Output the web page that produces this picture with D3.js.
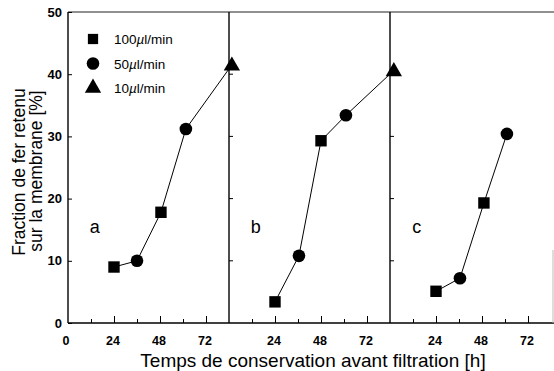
<!DOCTYPE html>
<html>
<head>
<meta charset="utf-8">
<script src="https://cdn.jsdelivr.net/npm/d3@7"></script>
<style>
  body { margin: 0; background: #fff; }
  svg { display: block; font-family: "Liberation Sans", Arial, sans-serif; }
</style>
</head>
<body>
<svg id="chart" width="554" height="371"></svg>
<script>
// Data (hours, percent, marker)
const panelA = [
    { h: 24, v: 9.0, m: 'square' },
    { h: 36, v: 10.0, m: 'circle' },
    { h: 48.5, v: 17.8, m: 'square' },
    { h: 61.5, v: 31.2, m: 'circle' },
    { h: 85.5, v: 41.5, m: 'triangle' }
];
const panelB = [
    { h: 24, v: 3.4, m: 'square' },
    { h: 36.5, v: 10.8, m: 'circle' },
    { h: 48, v: 29.3, m: 'square' },
    { h: 61, v: 33.4, m: 'circle' },
    { h: 86, v: 40.6, m: 'triangle' }
];
const panelC = [
    { h: 24, v: 5.1, m: 'square' },
    { h: 36.5, v: 7.2, m: 'circle' },
    { h: 49, v: 19.3, m: 'square' },
    { h: 61, v: 30.4, m: 'circle' }
];
const panels = [panelA, panelB, panelC];
const panelLetters = ['a', 'b', 'c'];
const legendItems = [
    { pre: '100', m: 'square' },
    { pre: '50', m: 'circle' },
    { pre: '10', m: 'triangle' }
];
const yTicks = [0, 10, 20, 30, 40, 50];
const xMajor = [24, 48, 72];
const xMinor = [12, 36, 60];

const svg = d3.select('#chart');
const plotLeft = 68, plotTop = 12, plotBottom = 323, panelW = 161;
const font = '"Liberation Sans", Arial, sans-serif';

const y = d3.scaleLinear().domain([0, 50]).range([plotBottom, plotTop]);
const xs = panels.map((p, i) => d3.scaleLinear()
    .domain([0, 84])
    .range([plotLeft + i * panelW, plotLeft + (i + 1) * panelW]));

const symbolFor = {
    square: d3.symbol().type(d3.symbolSquare).size(130),
    circle: d3.symbol().type(d3.symbolCircle).size(125),
    triangle: d3.symbol().type(d3.symbolTriangle).size(115)
};

// Frame: left axis, bottom axis, top line, dividers
svg.append('line')
    .attr('x1', plotLeft).attr('x2', plotLeft).attr('y1', plotTop).attr('y2', plotBottom)
    .attr('stroke', '#000').attr('stroke-width', 1.4);
svg.append('line')
    .attr('x1', plotLeft).attr('x2', 554).attr('y1', plotBottom).attr('y2', plotBottom)
    .attr('stroke', '#000').attr('stroke-width', 1.4);
svg.append('line')
    .attr('x1', plotLeft).attr('x2', 554).attr('y1', plotTop).attr('y2', plotTop)
    .attr('stroke', '#222').attr('stroke-width', 1.2);
[1, 2].forEach(i => {
    svg.append('line')
        .attr('x1', plotLeft + i * panelW).attr('x2', plotLeft + i * panelW)
        .attr('y1', plotTop).attr('y2', plotBottom)
        .attr('stroke', '#000').attr('stroke-width', 1.4);
    // small ticks on dividers
    svg.selectAll(null)
        .data(yTicks.slice(1, -1))
        .enter().append('line')
        .attr('x1', plotLeft + i * panelW).attr('x2', plotLeft + i * panelW + 4)
        .attr('y1', d => y(d)).attr('y2', d => y(d))
        .attr('stroke', '#000').attr('stroke-width', 1);
});
svg.append('line')
    .attr('x1', 553).attr('x2', 553).attr('y1', 250).attr('y2', plotBottom)
    .attr('stroke', '#bbb').attr('stroke-width', 1);

// Y axis ticks and labels
const yAxis = d3.axisLeft(y).tickValues(yTicks).tickSize(-4).tickPadding(6);
const gy = svg.append('g').attr('transform', `translate(${plotLeft},0)`).call(yAxis);
gy.select('.domain').remove();
gy.selectAll('.tick line').attr('stroke-width', 1);
gy.selectAll('text')
    .attr('fill', '#000')
    .style('font-size', '13px').style('font-weight', 'bold')
    .style('font-family', font);

// X axes, one per panel
xs.forEach((x, i) => {
    const labels = i === 0 ? [0].concat(xMajor) : xMajor;
    const g = svg.append('g').attr('transform', `translate(0,${plotBottom})`);
    g.call(d3.axisBottom(x).tickValues(xMajor).tickSize(-7).tickFormat(''))
        .select('.domain').remove();
    g.append('g')
        .call(d3.axisBottom(x).tickValues(xMinor).tickSize(-4).tickFormat(''))
        .select('.domain').remove();
    g.selectAll('.tick line').attr('stroke-width', 1);
    g.selectAll('text.lbl')
        .data(labels)
        .enter().append('text')
        .attr('class', 'lbl')
        .attr('x', d => x(d) - (d === 0 ? 2 : 1))
        .attr('y', 22)
        .attr('fill', '#000')
        .attr('text-anchor', 'middle')
        .style('font-size', '12.5px').style('font-weight', 'bold')
        .style('font-family', font)
        .text(d => d);
});

// Lines and markers
const line = d3.line();
panels.forEach((pts, i) => {
    const x = xs[i];
    svg.append('path')
        .attr('d', line(pts.map(d => [x(d.h), y(d.v)])))
        .attr('fill', 'none').attr('stroke', '#000').attr('stroke-width', 1);
    svg.selectAll(null)
        .data(pts)
        .enter().append('path')
        .attr('d', d => symbolFor[d.m]())
        .attr('transform', d => `translate(${x(d.h)},${y(d.v) + (d.m === 'triangle' ? 1 : 0)})`)
        .attr('fill', '#000');
    svg.append('text')
        .attr('x', x(14))
        .attr('y', y(14.5))
        .attr('text-anchor', 'middle')
        .style('font-size', '18px')
        .text(panelLetters[i]);
});

// Legend
legendItems.forEach((d, k) => {
    const ly = 39 + k * 24.5;
    svg.append('path')
        .attr('d', d.m === 'square'
            ? d3.symbol().type(d3.symbolSquare).size(105)()
            : symbolFor[d.m]())
        .attr('transform', `translate(93,${ly})`)
        .attr('fill', '#000');
    const t = svg.append('text')
        .attr('x', 114).attr('y', ly + 5)
        .style('font-size', '13.5px');
    t.append('tspan').text(d.pre);
    t.append('tspan').style('font-style', 'italic').text('\u00b5');
    t.append('tspan').text('l/min');
});

// Axis titles
svg.append('text')
    .attr('transform', 'translate(25,172) rotate(-90)')
    .attr('text-anchor', 'middle')
    .style('font-size', '17.5px')
    .text('Fraction de fer retenu');
svg.append('text')
    .attr('transform', 'translate(42,171) rotate(-90)')
    .attr('text-anchor', 'middle')
    .style('font-size', '17.5px')
    .text('sur la membrane [%]');
svg.append('text')
    .attr('x', 313).attr('y', 367)
    .attr('text-anchor', 'middle')
    .style('font-size', '19px')
    .text('Temps de conservation avant filtration [h]');
</script>
</body>
</html>
